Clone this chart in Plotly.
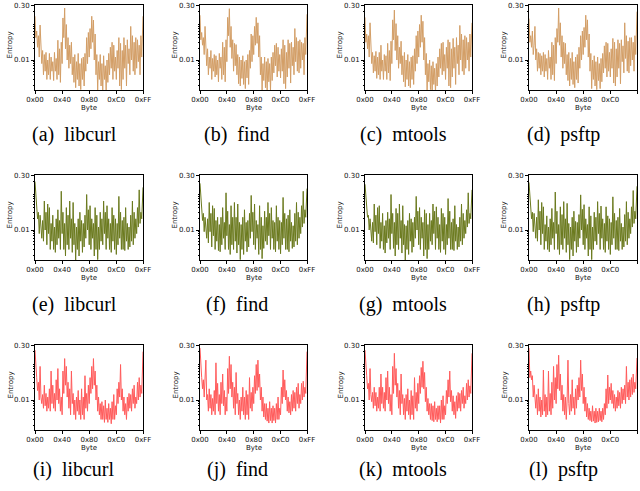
import plotly.graph_objects as go
import math

# ---------------- data (entropy values in thousandths, 1 value per 2 bytes) -------------
byte_pos = list(range(0, 254, 2)) + [255]
x_tickvals = [0, 64, 128, 192, 255]
x_ticktext = ["0x00", "0x40", "0x80", "0xC0", "0xFF"]
y_tickvals = [0.01, 0.3]
y_ticktext = ["0.01", "0.30"]
y_minor_vals = [0.002, 0.003, 0.004, 0.005, 0.006, 0.007, 0.008, 0.009,
                0.02, 0.03, 0.04, 0.05, 0.06, 0.07, 0.08, 0.09, 0.2]

captions = ["(a)  libcurl", "(b)  find", "(c)  mtools", "(d)  psftp",
            "(e)  libcurl", "(f)  find", "(g)  mtools", "(h)  psftp",
            "(i)  libcurl", "(j)  find", "(k)  mtools", "(l)  psftp"]

ent_a = [150, 40, 60, 22, 45, 12, 87, 15,
         8, 18, 4, 14, 5, 16, 3, 10,
         4, 15, 3, 12, 5, 9, 2.8, 16,
         5, 11, 3, 34, 4, 20, 2.5, 30,
         8, 135, 40, 250, 20, 90, 10, 40,
         6, 25, 8, 30, 4, 12, 2.5, 14,
         1.8, 9, 3, 15, 2, 8, 1.6, 11,
         3, 12, 2, 15, 5, 40, 8, 55,
         12, 70, 20, 150, 30, 118, 10, 50,
         4, 14, 1.5, 9, 3, 14, 2, 8,
         1.4, 13, 3, 7, 1.5, 10, 2.5, 15,
         4, 22, 6, 30, 3, 25, 5, 12,
         3, 18, 6, 40, 2, 28, 1.6, 18,
         3, 40, 6, 25, 2, 35, 8, 20,
         4, 80, 10, 45, 5, 30, 4, 40,
         6, 35, 9, 25, 4, 45, 12, 150]

ent_b = [160, 35, 55, 25, 40, 14, 80, 18,
         7, 20, 4, 12, 6, 18, 3, 11,
         5, 14, 3.5, 13, 4, 10, 2.6, 15,
         6, 12, 3, 30, 4, 22, 2.6, 35,
         9, 140, 45, 240, 22, 80, 11, 35,
         5, 28, 7, 26, 4, 14, 2.3, 12,
         2, 10, 3.2, 13, 2.2, 9, 1.7, 10,
         3.3, 14, 2.2, 18, 6, 50, 9, 45,
         14, 80, 25, 140, 28, 100, 12, 45,
         4, 12, 1.5, 8, 2.8, 12, 1.8, 9,
         1.4, 11, 2.6, 8, 1.5, 12, 2.8, 16,
         4.5, 25, 7, 28, 3.5, 22, 5, 14,
         3.3, 20, 5, 35, 2.3, 25, 1.7, 16,
         3.5, 35, 6, 28, 2.4, 30, 7, 22,
         4, 70, 9, 40, 5, 32, 4.5, 35,
         6, 30, 10, 28, 4, 40, 14, 170]

ent_c = [140, 30, 50, 20, 45, 12, 100, 14,
         8, 16, 4.5, 13, 5, 17, 3.2, 12,
         4, 16, 3, 25, 5, 10, 3, 14,
         5, 13, 3, 28, 4.5, 18, 2.8, 32,
         8, 120, 35, 220, 18, 95, 10, 45,
         6, 22, 8, 32, 4, 13, 2.6, 16,
         1.9, 10, 3, 14, 2, 9, 1.8, 12,
         3, 13, 2.2, 20, 5, 45, 8, 60,
         12, 90, 22, 160, 30, 110, 10, 40,
         4, 15, 1.4, 8, 2.6, 10, 1.6, 7,
         1.3, 9, 2.2, 6, 1.3, 8, 2, 12,
         3.5, 20, 6, 28, 4, 30, 5, 14,
         3, 22, 6, 35, 2, 30, 1.8, 20,
         3.5, 38, 6, 22, 2.2, 40, 8, 25,
         4, 85, 10, 50, 5, 35, 4, 45,
         6, 40, 10, 30, 5, 50, 12, 100]

ent_d = [130, 30, 45, 22, 60, 14, 25, 80,
         10, 20, 5, 16, 6, 15, 4, 13,
         5, 16, 3.5, 14, 5, 11, 3, 18,
         6, 12, 3, 30, 4, 25, 2.8, 40,
         8, 70, 30, 250, 25, 100, 12, 45,
         6, 30, 8, 28, 4, 14, 2.8, 16,
         2, 11, 3, 16, 2.2, 9, 1.8, 12,
         3, 14, 2.4, 22, 6, 45, 10, 60,
         14, 75, 22, 160, 35, 120, 12, 50,
         5, 15, 1.7, 10, 3, 13, 2, 9,
         1.6, 12, 2.8, 8, 1.7, 11, 2.6, 15,
         4.5, 24, 6, 30, 3.5, 28, 5, 16,
         3.5, 20, 6, 38, 2.4, 30, 2, 20,
         3.5, 35, 6, 28, 2.3, 35, 9, 24,
         4.5, 100, 11, 45, 5, 32, 4.5, 40,
         7, 40, 10, 30, 5, 45, 14, 200]

ent_e = [200, 90, 40, 20, 30, 8, 25, 12,
         6, 18, 5, 60, 10, 30, 4, 50,
         8, 40, 3, 15, 5, 25, 3, 12,
         2.5, 20, 4, 35, 6, 18, 3, 110,
         8, 30, 3, 15, 2, 40, 4, 25,
         3, 60, 6, 20, 2.5, 55, 4, 15,
         1.5, 12, 3, 20, 2, 30, 5, 18,
         2.5, 15, 3.5, 25, 6, 90, 10, 35,
         4, 45, 3, 20, 6, 15, 2, 40,
         3, 25, 1.6, 12, 3, 30, 5, 20,
         4, 60, 8, 30, 3, 45, 6, 20,
         3, 15, 2.5, 40, 5, 25, 3, 20,
         2.2, 15, 4, 80, 6, 30, 3, 18,
         3, 22, 2.8, 40, 5, 15, 3, 12,
         3.5, 25, 5, 60, 4, 30, 6, 20,
         8, 40, 12, 120, 15, 30, 20, 140]

ent_f = [180, 80, 35, 18, 28, 9, 22, 14,
         6, 20, 4.5, 55, 9, 28, 3.5, 45,
         7, 38, 3, 18, 5, 22, 2.8, 14,
         2.6, 22, 4, 40, 6, 16, 3, 100,
         7, 32, 3, 14, 2.2, 45, 4, 22,
         3, 55, 5, 22, 2.4, 50, 4, 16,
         1.6, 14, 3, 22, 2.2, 35, 5, 16,
         2.6, 18, 3.5, 28, 6, 85, 9, 30,
         4, 50, 3, 18, 6, 14, 2.2, 45,
         3, 22, 1.7, 13, 3.2, 32, 5, 22,
         4, 55, 7, 28, 3, 40, 6, 18,
         3, 16, 2.6, 45, 5, 22, 3, 18,
         2.3, 16, 4, 75, 6, 28, 3, 20,
         3, 25, 2.6, 35, 5, 16, 3.2, 13,
         3.5, 28, 5, 55, 4, 30, 6, 22,
         8, 45, 12, 110, 15, 35, 22, 130]

ent_g = [170, 70, 40, 22, 25, 10, 20, 12,
         5, 16, 4.5, 50, 9, 25, 4, 40,
         8, 45, 3.2, 16, 5, 28, 3, 13,
         2.4, 18, 4.5, 30, 6, 20, 3, 90,
         8, 28, 3.2, 16, 2, 38, 4, 28,
         3, 50, 6, 18, 2.4, 45, 4, 14,
         1.5, 13, 3, 18, 2.2, 28, 5, 20,
         2.5, 16, 3.5, 22, 6, 80, 10, 32,
         4, 40, 3, 22, 6, 16, 2, 35,
         3, 28, 1.7, 14, 3, 28, 5, 18,
         4, 50, 8, 32, 3, 42, 6, 22,
         3, 14, 2.5, 38, 5, 28, 3, 22,
         2.2, 14, 4, 70, 6, 32, 3, 16,
         3, 20, 2.8, 45, 5, 14, 3, 12,
         3.5, 22, 5, 50, 4, 28, 6, 18,
         8, 35, 12, 100, 15, 28, 20, 120]

ent_h = [190, 85, 45, 20, 30, 9, 28, 12,
         6, 22, 5, 65, 10, 32, 4, 55,
         8, 42, 3, 14, 5, 24, 3, 12,
         2.6, 20, 4, 38, 6, 16, 3, 105,
         8, 32, 3, 14, 2.2, 42, 4, 26,
         3, 58, 6, 20, 2.5, 52, 4, 15,
         1.6, 12, 3, 22, 2, 32, 5, 17,
         2.5, 16, 3.5, 26, 6, 88, 10, 36,
         4, 48, 3, 20, 6, 14, 2, 42,
         3, 24, 1.6, 12, 3, 30, 5, 22,
         4, 58, 8, 28, 3, 44, 6, 20,
         3, 15, 2.5, 42, 5, 24, 3, 20,
         2.2, 16, 4, 78, 6, 28, 3, 18,
         3, 22, 2.8, 38, 5, 15, 3, 12,
         3.5, 26, 5, 58, 4, 30, 6, 20,
         8, 42, 12, 115, 15, 32, 20, 150]

ent_i = [220, 60, 40, 18, 30, 10, 80, 12,
         8, 14, 6, 25, 7, 15, 5, 12,
         6, 20, 5, 60, 8, 25, 6, 15,
         5, 35, 10, 70, 8, 20, 5, 12,
         4, 60, 15, 130, 25, 80, 12, 30,
         6, 20, 4, 60, 8, 15, 4, 10,
         3, 12, 5, 18, 4, 10, 3, 20,
         4, 12, 3, 45, 6, 15, 5, 25,
         8, 40, 15, 80, 20, 130, 25, 60,
         10, 25, 5, 12, 4, 8, 3, 9,
         3, 7, 2.5, 10, 3, 6, 2.5, 8,
         3, 6, 2.3, 9, 3, 14, 3, 7,
         4, 20, 8, 30, 12, 90, 10, 20,
         5, 12, 4, 8, 3, 12, 5, 15,
         6, 14, 5, 20, 8, 25, 6, 12,
         8, 30, 10, 40, 12, 25, 15, 200]

ent_j = [250, 50, 40, 20, 35, 12, 60, 118,
         10, 14, 5, 20, 6, 14, 4, 11,
         5, 18, 4, 100, 8, 28, 5, 14,
         4, 30, 8, 50, 7, 18, 4, 12,
         5, 70, 15, 150, 20, 90, 12, 30,
         6, 22, 4, 55, 8, 15, 4, 10,
         3, 12, 5, 22, 4, 12, 3, 18,
         4, 14, 3, 40, 6, 16, 5, 22,
         8, 45, 15, 90, 18, 118, 22, 50,
         10, 22, 5, 12, 3.5, 8, 3, 8,
         2.7, 6, 2.4, 9, 2.8, 6, 2.4, 7,
         2.8, 6, 2.4, 8, 3, 12, 3, 6,
         4, 22, 8, 64, 12, 35, 10, 18,
         5, 12, 4.5, 9, 4, 14, 5, 18,
         6, 16, 5, 22, 8, 28, 6, 14,
         8, 28, 10, 32, 12, 22, 15, 200]

ent_k = [220, 70, 45, 20, 28, 10, 70, 14,
         9, 16, 6, 22, 7, 16, 5, 12,
         6, 22, 5, 50, 8, 22, 6, 16,
         5, 40, 10, 60, 8, 22, 5, 14,
         4, 80, 15, 180, 25, 70, 12, 28,
         6, 18, 4, 50, 8, 14, 4, 11,
         3, 14, 5, 20, 4, 10, 3, 18,
         4, 13, 3, 40, 6, 16, 5, 28,
         8, 45, 15, 75, 22, 110, 20, 55,
         9, 22, 5, 11, 4, 8, 3, 8,
         2.8, 7, 2.6, 9, 3, 6, 2.6, 7,
         3, 7, 2.4, 10, 3, 13, 3, 7,
         4, 18, 8, 35, 12, 60, 9, 18,
         5, 13, 4, 9, 3.2, 13, 5, 16,
         6, 15, 5, 18, 8, 22, 6, 13,
         8, 28, 10, 35, 12, 24, 15, 180]

ent_l = [250, 40, 60, 35, 45, 12, 25, 10,
         6, 14, 4, 20, 5, 12, 3.5, 10,
         4, 64, 5, 14, 3.5, 12, 4, 60,
         5, 15, 4, 30, 6, 80, 10, 40,
         8, 90, 20, 160, 18, 50, 10, 25,
         5, 14, 4, 12, 3, 10, 118, 8,
         4, 14, 5, 35, 6, 12, 4, 20,
         6, 25, 10, 40, 12, 118, 18, 50,
         8, 22, 5, 12, 3.5, 8, 3, 6,
         2.8, 5, 2.6, 7, 2.7, 5, 2.4, 6,
         2.5, 5, 2.6, 6, 2.8, 5, 2.6, 6,
         3, 8, 4, 20, 6, 47, 8, 22,
         10, 28, 8, 18, 6, 14, 5, 12,
         6, 18, 7, 16, 6, 22, 8, 20,
         10, 25, 8, 80, 12, 30, 10, 35,
         12, 40, 14, 50, 16, 30, 20, 135]

series = [ent_a, ent_b, ent_c, ent_d, ent_e, ent_f, ent_g, ent_h,
          ent_i, ent_j, ent_k, ent_l]
row_colors = ["#d39e66", "#6b7a1e", "#ff5b5b"]

# ---------------- layout geometry (pixels) ----------------
W, H = 640, 491
col_x = [(35, 143), (200, 307), (365, 472), (529, 637)]
row_y = [(5, 90), (175, 260), (345, 430)]
caption_x = [74, 237, 403, 563]
caption_y = [134, 304, 469]

fig = go.Figure()
layout = dict(width=W, height=H, margin=dict(l=0, r=0, t=0, b=0, autoexpand=False),
              paper_bgcolor="white", plot_bgcolor="white", showlegend=False)
annotations = []
tickfont = dict(family="DejaVu Sans", size=7, color="#111")
ylo, yhi = math.log10(0.00156), math.log10(0.3) + 0.002

for k, vals in enumerate(series):
    r, c = divmod(k, 4)
    n = k + 1
    xa = "x" if n == 1 else f"x{n}"
    ya = "y" if n == 1 else f"y{n}"
    x0, x1 = col_x[c]
    y0, y1 = row_y[r]
    fig.add_trace(go.Scatter(x=byte_pos[:len(vals)], y=[v / 1000 for v in vals],
                             mode="lines", xaxis=xa, yaxis=ya,
                             line=dict(color=row_colors[r], width=1.0),
                             hoverinfo="skip"))
    layout[f"xaxis{n}"] = dict(domain=[x0 / W, x1 / W], anchor=ya, range=[0, 255],
                               tickvals=x_tickvals, ticktext=x_ticktext, automargin=False,
                               ticks="outside", ticklen=3, tickwidth=0.8, tickcolor="black",
                               showline=True, linecolor="black", linewidth=1, mirror=True,
                               showgrid=False, zeroline=False, tickfont=tickfont)
    layout[f"yaxis{n}"] = dict(domain=[1 - y1 / H, 1 - y0 / H], anchor=xa, type="log",
                               range=[ylo, yhi], tickvals=y_tickvals, ticktext=y_ticktext,
                               automargin=False,
                               ticks="outside", ticklen=3, tickwidth=0.8, tickcolor="black",
                               minor=dict(tickvals=y_minor_vals, ticks="outside", ticklen=1.5,
                                          tickcolor="black", tickwidth=0.6, showgrid=False),
                               showline=True, linecolor="black", linewidth=1, mirror=True,
                               showgrid=False, zeroline=False, tickfont=tickfont)
    annotations.append(dict(text="Byte", xref="paper", yref="paper",
                            x=(x0 + x1) / 2 / W, y=1 - (y1 + 18) / H,
                            showarrow=False, font=dict(family="DejaVu Sans", size=7, color="#111"),
                            xanchor="center", yanchor="middle"))
    annotations.append(dict(text="Entropy", xref="paper", yref="paper",
                            x=(x0 - 25) / W, y=1 - ((y0 + y1) / 2 - 2) / H, textangle=-90,
                            showarrow=False, font=dict(family="DejaVu Sans", size=7, color="#111"),
                            xanchor="center", yanchor="middle"))
    annotations.append(dict(text=captions[k], xref="paper", yref="paper",
                            x=caption_x[c] / W, y=1 - caption_y[r] / H,
                            showarrow=False, font=dict(family="Liberation Serif", size=20, color="black"),
                            xanchor="center", yanchor="middle"))

layout["annotations"] = annotations
fig.update_layout(**layout)
fig.write_html("out.html")
